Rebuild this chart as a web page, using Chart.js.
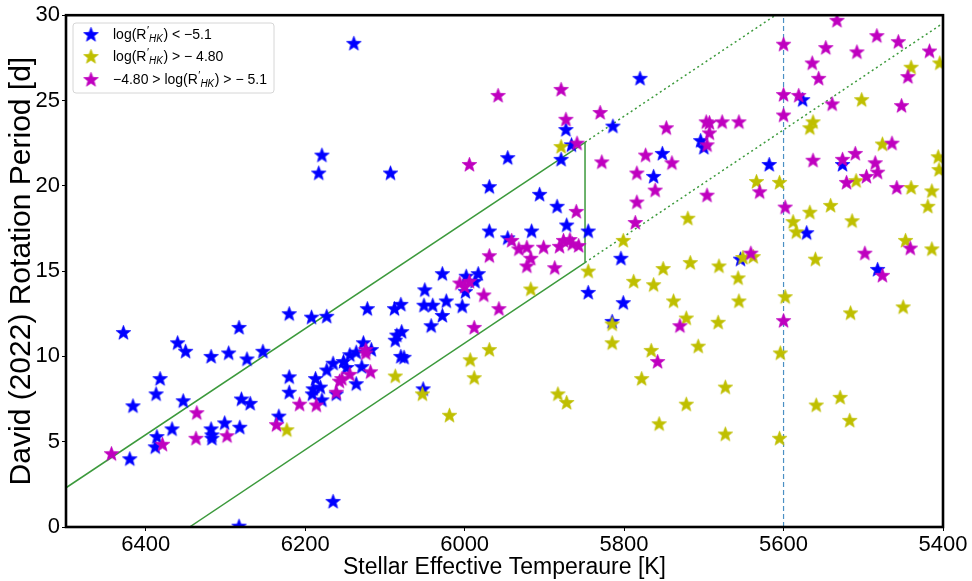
<!DOCTYPE html>
<html>
<head>
<meta charset="utf-8">
<script src="https://cdn.jsdelivr.net/npm/chart.js@4.4.0/dist/chart.umd.min.js"></script>
<style>
  body { margin: 0; background: #fff; }
  #wrap { width: 972px; height: 581px; }
</style>
</head>
<body>
<div id="wrap"><canvas id="rotChart" width="972" height="581"></canvas></div>
<script>
// axis ticks
const xTicks = [6400, 6200, 6000, 5800, 5600, 5400];
const yTicks = [0, 5, 10, 15, 20, 25, 30];

// log(R'HK) < -5.1
const blueTeff = [6428, 6283, 6360, 6350, 6318, 6296, 6273, 6253, 6220, 6382, 6387, 6416, 6353, 6280, 6269, 6220, 6220, 6233, 6367, 6386,
  6388, 6420, 6318, 6317, 6317, 6301, 6282, 6283, 6192, 6173, 6122, 6088, 6080, 6050, 6051, 6040, 6023, 6003, 6028, 6042,
  5987, 5999, 6087, 6085, 6079, 6080, 6076, 6127, 6117, 6136, 6144, 6152, 6165, 6173, 6148, 6129, 6187, 6181, 6190, 6191,
  6179, 6136, 6161, 6052, 6165, 6179, 6183, 6093, 5969, 5946, 5969, 5946, 6028, 5998, 5983, 6139, 5780, 5814, 5873, 5866,
  5879, 5906, 5884, 5872, 5916, 5845, 5752, 5763, 5704, 5700, 5804, 5845, 5801, 5815, 5576, 5618, 5526, 5571, 5654, 5482];
const blueProt = [11.4, 11.7, 10.8, 10.3, 10.0, 10.2, 9.85, 10.3, 12.5, 8.7, 7.8, 7.1, 7.4, 7.5, 7.25, 8.8, 7.9, 6.5, 5.75, 5.3,
  4.7, 4.0, 5.75, 5.4, 5.2, 6.1, 5.85, 0.05, 12.3, 12.35, 12.8, 12.8, 13.05, 13.9, 13.0, 13.0, 13.25, 12.95, 12.4, 11.8,
  14.4, 13.8, 10.95, 11.25, 11.45, 10.0, 9.95, 10.8, 10.4, 10.25, 10.1, 9.7, 9.6, 9.2, 9.35, 9.4, 8.7, 8.2, 8.1, 7.8,
  7.45, 8.4, 7.8, 8.1, 1.5, 21.8, 20.75, 20.75, 19.95, 21.65, 17.35, 16.95, 14.85, 14.7, 14.85, 28.35, 26.3, 23.5, 23.3, 22.4,
  21.55, 19.5, 18.8, 17.7, 17.35, 17.35, 21.9, 20.55, 22.65, 22.25, 15.75, 13.75, 13.15, 12.05, 25.05, 21.25, 21.25, 17.25, 15.7, 15.1];

// log(R'HK) > -4.80
const yellowTeff = [6223, 6087, 6053, 6019, 5993, 5988, 5969, 5879, 5801, 5720, 5845, 5751, 5717, 5681, 5917, 5788, 5763, 5738, 5722, 5682,
  5815, 5815, 5766, 5707, 5778, 5673, 5883, 5872, 5722, 5756, 5673, 5440, 5404, 5502, 5563, 5567, 5476, 5406, 5405, 5634,
  5605, 5509, 5440, 5414, 5419, 5541, 5567, 5588, 5584, 5514, 5447, 5414, 5560, 5651, 5638, 5657, 5656, 5598, 5516, 5450,
  5604, 5559, 5529, 5517, 5605];
const yellowProt = [5.7, 8.85, 7.8, 6.55, 9.8, 8.75, 10.4, 22.3, 16.8, 18.1, 15.0, 15.15, 15.5, 15.3, 13.95, 14.4, 14.2, 13.25, 12.25, 12.0,
  11.9, 10.8, 10.35, 10.6, 8.7, 8.2, 7.8, 7.3, 7.2, 6.05, 5.45, 26.95, 27.2, 25.05, 23.75, 23.4, 22.45, 21.7, 20.95, 20.25,
  20.2, 20.3, 19.9, 19.7, 18.8, 18.85, 18.45, 17.9, 17.3, 17.95, 16.8, 16.3, 15.7, 15.8, 15.85, 14.6, 13.25, 13.5, 12.55, 12.9,
  10.2, 7.15, 7.6, 6.25, 5.2];

// -4.80 > log(R'HK) > -5.1
const magentaTeff = [6443, 6379, 6336, 6337, 6298, 6236, 6006, 6000, 5994, 5976, 5957, 5988, 6124, 6124, 6118, 6144, 6154, 6157, 6161, 6207,
  6186, 5994, 5969, 5958, 5879, 5830, 5873, 5859, 5828, 5860, 5941, 5932, 5922, 5917, 5922, 5901, 5887, 5881, 5876, 5868,
  5865, 5857, 5784, 5773, 5747, 5740, 5761, 5784, 5786, 5697, 5693, 5677, 5693, 5696, 5696, 5730, 5758, 5533, 5600, 5483,
  5547, 5508, 5456, 5417, 5564, 5556, 5444, 5600, 5581, 5539, 5452, 5600, 5656, 5464, 5510, 5526, 5563, 5485, 5482, 5496,
  5521, 5458, 5630, 5598, 5641, 5498, 5441, 5476, 5600];
const magentaProt = [4.3, 4.85, 6.7, 5.2, 5.35, 6.0, 14.3, 14.1, 14.4, 13.6, 12.8, 11.7, 10.4, 10.2, 9.1, 8.95, 8.7, 8.55, 7.9, 7.2,
  7.15, 21.25, 15.9, 25.3, 25.65, 24.3, 23.9, 22.5, 21.4, 18.5, 16.8, 16.3, 16.4, 15.75, 15.3, 16.4, 15.2, 16.45, 16.8, 16.85,
  16.6, 16.5, 20.75, 21.8, 23.4, 21.35, 19.75, 19.05, 17.85, 23.75, 23.7, 23.75, 23.1, 22.4, 19.45, 11.8, 9.7, 29.7, 28.3, 28.8,
  28.1, 27.85, 28.45, 27.9, 27.2, 26.3, 26.4, 25.35, 25.3, 24.8, 24.7, 24.15, 23.75, 22.5, 21.9, 21.55, 21.5, 21.35, 20.8, 20.55,
  20.2, 19.9, 19.65, 18.75, 16.05, 16.05, 16.35, 14.75, 12.1];

// selection box edges (Teff, Prot)
const upperSolidT = [6500, 5849], upperSolidP = [2.3, 22.55];
const upperDotT = [5849, 5610], upperDotP = [22.55, 30];
const lowerSolidT = [6345, 5849], lowerSolidP = [0, 15.5];
const lowerDotT = [5849, 5400], lowerDotP = [15.5, 29.53];
const edgeT = [5849, 5849], edgeP = [15.5, 22.55];
const cutT = [5600, 5600], cutP = [0, 30];

const pts = (xs, ys) => xs.map((v, i) => ({ x: v, y: ys[i] }));

function makeStar(color) {
  const c = document.createElement('canvas');
  c.width = 17; c.height = 17;
  const g = c.getContext('2d');
  g.beginPath();
  for (let i = 0; i < 10; i++) {
    const r = i % 2 ? 3.3 : 7.8;
    const a = -Math.PI / 2 + i * Math.PI / 5;
    const px = 8.5 + r * Math.cos(a), py = 9 + r * Math.sin(a);
    if (i === 0) g.moveTo(px, py); else g.lineTo(px, py);
  }
  g.closePath();
  g.fillStyle = color;
  g.fill();
  g.strokeStyle = color;
  g.lineWidth = 0.6;
  g.stroke();
  return c;
}
const starBlue = makeStar('#0000ff');
const starYellow = makeStar('#bfbf00');
const starMagenta = makeStar('#bf00bf');

const green = '#3c9a3c';
function edgeLine(xs, ys, dash) {
  return {
    type: 'line', data: pts(xs, ys), borderColor: green, borderWidth: 1.5,
    borderDash: dash, pointRadius: 0, fill: false, order: 5
  };
}

const font = 'Liberation Sans, Arial, sans-serif';

// white background, frame, legend with sub/superscripts
const framePlugin = {
  id: 'frame',
  beforeDraw(chart) {
    const c = chart.ctx;
    c.save();
    c.fillStyle = '#fff';
    c.fillRect(0, 0, chart.width, chart.height);
    c.restore();
  },
  afterDraw(chart) {
    const c = chart.ctx, a = chart.chartArea;
    c.save();
    c.strokeStyle = '#000';
    c.lineWidth = 2.6;
    c.strokeRect(a.left, a.top, a.right - a.left, a.bottom - a.top);

    // legend
    const bx = 73, by = 23, bw = 201, bh = 70;
    c.beginPath();
    c.roundRect(bx, by, bw, bh, 3);
    c.fillStyle = 'rgba(255,255,255,0.85)';
    c.fill();
    c.strokeStyle = '#d6d6d6';
    c.lineWidth = 1;
    c.stroke();

    const items = [
      [starBlue, [['log(R', 'n'], ['\u2032', 'sup'], ['HK', 'sub'], [') < \u22125.1', 'n']]],
      [starYellow, [['log(R', 'n'], ['\u2032', 'sup'], ['HK', 'sub'], [') > \u2212 4.80', 'n']]],
      [starMagenta, [['\u22124.80 > log(R', 'n'], ['\u2032', 'sup'], ['HK', 'sub'], [') > \u2212 5.1', 'n']]]
    ];
    const rows = [35, 57, 80];
    items.forEach((it, k) => {
      const y = rows[k];
      c.drawImage(it[0], 91 - 8.5, y - 9);
      let x = 113;
      c.textBaseline = 'middle';
      c.fillStyle = '#000';
      it[1].forEach(([t, s]) => {
        let dy = 0;
        if (s === 'n') c.font = '14px ' + font;
        if (s === 'sup') { c.font = '11px ' + font; dy = -4; }
        if (s === 'sub') { c.font = 'italic 10px ' + font; dy = 4; }
        c.fillText(t, x, y + dy);
        x += c.measureText(t).width + (s === 'sup' ? 0 : 0.5);
      });
    });
    c.restore();
  }
};

new Chart(document.getElementById('rotChart'), {
  type: 'scatter',
  data: {
    datasets: [
      { label: 'blue', data: pts(blueTeff, blueProt), pointStyle: starBlue, order: 3 },
      { label: 'yellow', data: pts(yellowTeff, yellowProt), pointStyle: starYellow, order: 2 },
      { label: 'magenta', data: pts(magentaTeff, magentaProt), pointStyle: starMagenta, order: 1 },
      edgeLine(upperSolidT, upperSolidP, []),
      edgeLine(upperDotT, upperDotP, [2, 3]),
      edgeLine(lowerSolidT, lowerSolidP, []),
      edgeLine(lowerDotT, lowerDotP, [2, 3]),
      edgeLine(edgeT, edgeP, []),
      {
        type: 'line', data: pts(cutT, cutP), borderColor: '#4a90c4', borderWidth: 1.2,
        borderDash: [5, 3], pointRadius: 0, fill: false, order: 6
      }
    ]
  },
  options: {
    responsive: false,
    animation: false,
    devicePixelRatio: 1,
    layout: { padding: { top: 15, right: 29, left: 0, bottom: 0 } },
    plugins: { legend: { display: false }, tooltip: { enabled: false } },
    scales: {
      x: {
        type: 'linear', min: 5400, max: 6500, reverse: true,
        afterBuildTicks: s => { s.ticks = xTicks.map(v => ({ value: v })); },
        afterFit: s => { s.height = 54; },
        grid: { drawOnChartArea: false, drawTicks: true, tickLength: 4, color: '#000' },
        border: { display: false },
        ticks: { color: '#000', font: { family: font, size: 22 }, padding: 1, maxRotation: 0,
          callback: v => String(v) },
        title: { display: true, text: 'Stellar Effective Temperaure [K]', color: '#000',
          font: { family: font, size: 23 }, padding: { top: 0, bottom: 0 } }
      },
      y: {
        type: 'linear', min: 0, max: 30,
        afterBuildTicks: s => { s.ticks = yTicks.map(v => ({ value: v })); },
        afterFit: s => { s.width = 66; },
        grid: { drawOnChartArea: false, drawTicks: true, tickLength: 4, color: '#000' },
        border: { display: false },
        ticks: { color: '#000', font: { family: font, size: 22 }, padding: 2 },
        title: { display: true, text: 'David (2022) Rotation Period [d]', color: '#000',
          font: { family: font, size: 30 }, padding: { top: 4, bottom: 0 } }
      }
    }
  },
  plugins: [framePlugin]
});
</script>
</body>
</html>
